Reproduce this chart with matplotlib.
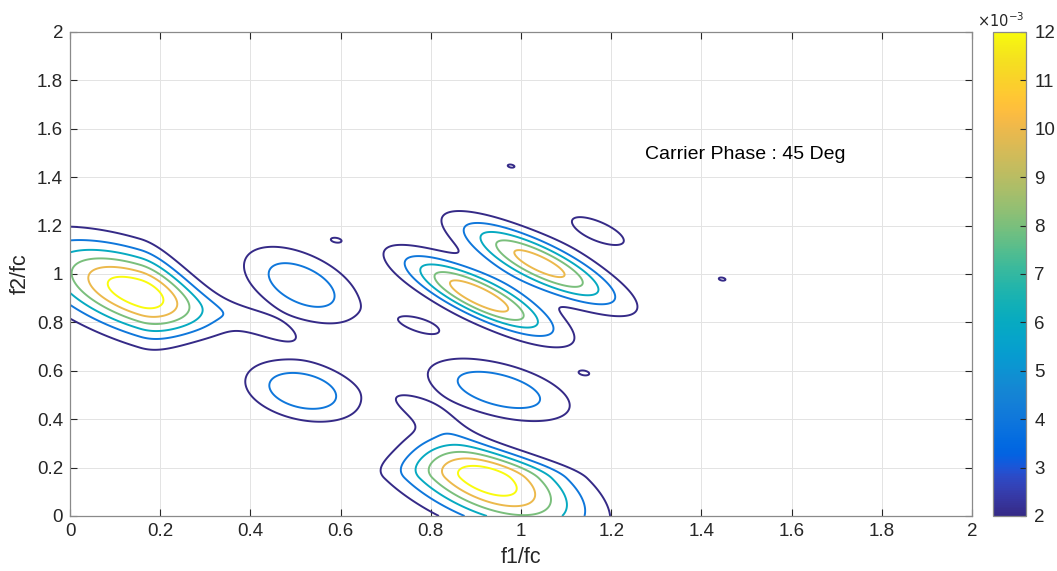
import numpy as np
import matplotlib
matplotlib.use('Agg')
import matplotlib.pyplot as plt
from matplotlib.colors import LinearSegmentedColormap, Normalize
from matplotlib.cm import ScalarMappable

plt.rcParams['font.family'] = ['Liberation Sans', 'DejaVu Sans']

# ---- peak parameters (amplitudes in units of 1e-3) ----
# each peak: centre, main axis ('x' or 'y'), width along the main axis on the low / high side,
# slope of the ridge, cross width, taper length of the cross width on the high side
peak_cx     = [0.156, 0.425, 0.922, 0.790, 0.5135, 0.516, 0.951,
               0.907, 1.041, 0.776, 1.171, 0.590, 0.978, 1.446, 1.140]
peak_cy     = [0.920, 0.790, 0.156, 0.425, 0.9545, 0.517, 0.521,
               0.909, 1.043, 0.789, 1.178, 1.140, 1.446, 0.979, 0.591]
peak_axis   = ['x', 'x', 'y', 'y', 'x', 'x', 'x',
               'x', 'x', 'x', 'x', 'x', 'x', 'x', 'x']
peak_su_lo  = [0.149, 0.070, 0.149, 0.070, 0.089, 0.088, 0.1085,
               0.112, 0.117, 0.054, 0.085, 0.014, 0.014, 0.014, 0.014]
peak_su_hi  = [0.105, 0.070, 0.105, 0.070, 0.089, 0.088, 0.1085,
               0.112, 0.117, 0.054, 0.085, 0.014, 0.014, 0.014, 0.014]
peak_slope  = [-0.55, -0.70, -0.55, -0.70, -0.618, -0.30, -0.41,
               -0.82, -0.82, -0.50, -0.70, -0.26, -0.26, -0.26, -0.26]
peak_sv     = [0.115, 0.040, 0.115, 0.040, 0.0953, 0.084, 0.0771,
               0.0641, 0.067, 0.036, 0.0607, 0.0115, 0.0115, 0.0115, 0.0115]
peak_taper  = [0.13, np.inf, 0.13, np.inf, np.inf, np.inf, np.inf,
               np.inf, np.inf, np.inf, np.inf, np.inf, np.inf, np.inf, np.inf]
peak_amp    = [13.5, 2.5, 13.5, 2.5, 5.6, 5.7, 5.7,
               11.8, 11.2, 2.5, 2.5, 2.3, 2.3, 2.3, 2.3]

contour_levels = [2, 4, 6, 8, 10, 12]          # x 1e-3
axis_ticks = [0, 0.2, 0.4, 0.6, 0.8, 1, 1.2, 1.4, 1.6, 1.8, 2]
axis_tick_labels = ['0', '0.2', '0.4', '0.6', '0.8', '1', '1.2', '1.4', '1.6', '1.8', '2']
cbar_ticks = [2, 3, 4, 5, 6, 7, 8, 9, 10, 11, 12]   # x 1e-3
annotation = 'Carrier Phase : 45 Deg'

# ---- parula colormap ----
parula_data = [[0.2081, 0.1663, 0.5292], [0.2116, 0.1898, 0.5777], [0.2123, 0.2138, 0.6270], [0.2081, 0.2386, 0.6771],
 [0.1959, 0.2645, 0.7279], [0.1707, 0.2919, 0.7792], [0.1253, 0.3242, 0.8303], [0.0591, 0.3598, 0.8683],
 [0.0117, 0.3875, 0.8820], [0.0060, 0.4086, 0.8828], [0.0165, 0.4266, 0.8786], [0.0329, 0.4430, 0.8720],
 [0.0498, 0.4586, 0.8641], [0.0629, 0.4737, 0.8554], [0.0723, 0.4887, 0.8467], [0.0779, 0.5040, 0.8384],
 [0.0793, 0.5200, 0.8312], [0.0749, 0.5375, 0.8263], [0.0641, 0.5570, 0.8240], [0.0488, 0.5772, 0.8228],
 [0.0343, 0.5966, 0.8199], [0.0265, 0.6137, 0.8135], [0.0239, 0.6287, 0.8038], [0.0231, 0.6418, 0.7913],
 [0.0228, 0.6535, 0.7768], [0.0267, 0.6642, 0.7607], [0.0384, 0.6743, 0.7436], [0.0590, 0.6838, 0.7254],
 [0.0843, 0.6928, 0.7062], [0.1133, 0.7015, 0.6859], [0.1453, 0.7098, 0.6646], [0.1801, 0.7177, 0.6424],
 [0.2178, 0.7250, 0.6193], [0.2586, 0.7317, 0.5954], [0.3022, 0.7376, 0.5712], [0.3482, 0.7424, 0.5473],
 [0.3953, 0.7459, 0.5244], [0.4420, 0.7481, 0.5033], [0.4871, 0.7491, 0.4840], [0.5300, 0.7491, 0.4661],
 [0.5709, 0.7485, 0.4494], [0.6099, 0.7473, 0.4337], [0.6473, 0.7456, 0.4188], [0.6834, 0.7435, 0.4044],
 [0.7184, 0.7411, 0.3905], [0.7525, 0.7384, 0.3768], [0.7858, 0.7356, 0.3633], [0.8185, 0.7327, 0.3498],
 [0.8507, 0.7299, 0.3360], [0.8824, 0.7274, 0.3217], [0.9139, 0.7258, 0.3063], [0.9450, 0.7261, 0.2886],
 [0.9739, 0.7314, 0.2666], [0.9938, 0.7455, 0.2403], [0.9990, 0.7653, 0.2164], [0.9955, 0.7861, 0.1967],
 [0.9880, 0.8066, 0.1794], [0.9789, 0.8271, 0.1633], [0.9697, 0.8481, 0.1475], [0.9626, 0.8705, 0.1309],
 [0.9589, 0.8949, 0.1132], [0.9598, 0.9218, 0.0948], [0.9661, 0.9514, 0.0755], [0.9763, 0.9831, 0.0538]]
parula = LinearSegmentedColormap.from_list('parula', parula_data)

# ---- build the surface ----
f = np.linspace(0, 2, 801)
F1, F2 = np.meshgrid(f, f)
Z = np.zeros_like(F1)
for i in range(len(peak_amp)):
    if peak_axis[i] == 'x':
        u, v = F1 - peak_cx[i], F2 - peak_cy[i]
    else:
        u, v = F2 - peak_cy[i], F1 - peak_cx[i]
    su = np.where(u < 0, peak_su_lo[i], peak_su_hi[i])
    up = np.clip(u, 0, None)
    sv = peak_sv[i] / np.sqrt(1 + (up / peak_taper[i]) ** 2)
    q = (u / su) ** 2 + ((v - peak_slope[i] * u) / sv) ** 2
    Z += peak_amp[i] * 1e-3 * np.exp(-0.5 * q)

lev = np.array(contour_levels) * 1e-3
norm = Normalize(vmin=lev[0], vmax=lev[-1])

W, H = 1057, 571
fig = plt.figure(figsize=(W / 100, H / 100), dpi=100)
ax = fig.add_axes([70 / W, 1 - 516 / H, (972 - 70) / W, (516 - 32) / H])

ax.contour(F1, F2, Z, levels=lev, cmap=parula, norm=norm, linewidths=1.4)

ax.set_xlim(0, 2)
ax.set_ylim(0, 2)
ax.set_xticks(axis_ticks)
ax.set_xticklabels(axis_tick_labels)
ax.set_yticks(axis_ticks)
ax.set_yticklabels(axis_tick_labels)
axc = '#262626'
ax.tick_params(direction='in', length=5, width=0.8, colors=axc, labelsize=13.5,
               top=True, right=True, pad=5)
for s in ax.spines.values():
    s.set_color('#8a8a8a')
    s.set_linewidth(0.9)
ax.grid(True, color='#e3e3e3', linewidth=0.7)
ax.set_axisbelow(True)
ax.set_xlabel('f1/fc', fontsize=15.5, color=axc, labelpad=5)
ax.set_ylabel('f2/fc', fontsize=15.5, color=axc, labelpad=4)
ax.text(1.275, 1.492, annotation, fontsize=14, color='black', va='center', ha='left')

# ---- colorbar ----
cax = fig.add_axes([993 / W, 1 - 516 / H, 33 / W, (516 - 32) / H])
sm = ScalarMappable(norm=norm, cmap=parula)
cb = fig.colorbar(sm, cax=cax)
cb.set_ticks(np.array(cbar_ticks) * 1e-3)
cb.set_ticklabels([str(t) for t in cbar_ticks])
cb.ax.tick_params(direction='in', length=4, width=0.8, colors=axc, labelsize=13.5, pad=6)
cb.outline.set_edgecolor('#8a8a8a')
cb.outline.set_linewidth(0.9)
fig.text(1001 / W, 1 - 21 / H, r'$\times10^{-3}$', fontsize=10.5, color=axc,
         ha='center', va='center')

fig.savefig('out.png', dpi=100, facecolor='white')
